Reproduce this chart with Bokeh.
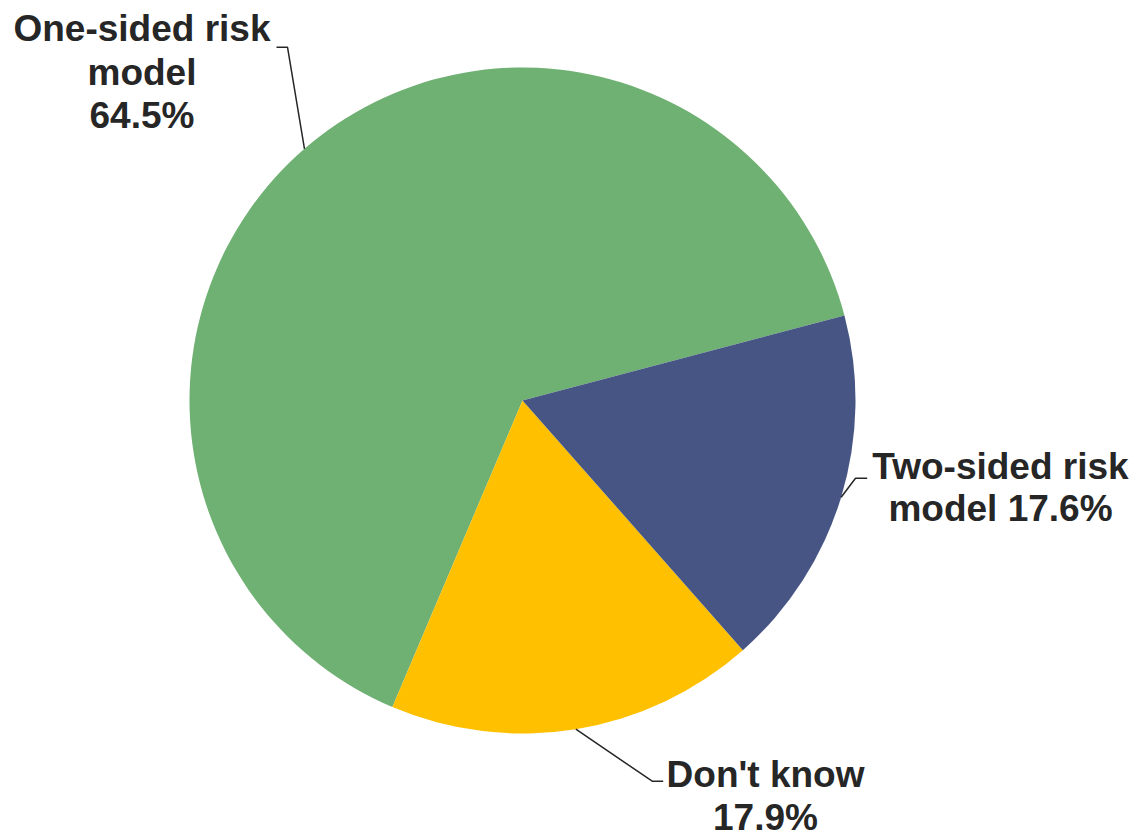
import math
from bokeh.plotting import figure
from bokeh.models import Range1d, ColumnDataSource
from bokeh.core.properties import value
from bokeh.embed import file_html
from bokeh.resources import INLINE

# Survey shares by risk model
categories = ["One-sided risk model", "Don't know", "Two-sided risk model"]
shares = [64.5, 17.9, 17.6]
colors = ["#6FB073", "#FFC000", "#475584"]

# Label text lines per slice (percentage appended from the data)
label_lines = [["One-sided risk", "model", "{}"], ["Don't know", "{}"], ["Two-sided risk", "model {}"]]

W, H = 1135, 830
CX, CY, R = 522.0, 430.0, 333.0
START_DEG = 14.8  # angle where the first slice begins (counter-clockwise)
TEXT_SHIFT = 12.0  # baseline correction for the text glyph

# label layout: (text centre x, first baseline y from top, line step, elbow, leader end)
layout = [
    dict(x=141.5, y0=40.0, step=43.7, elbow=(287.0, 46.7), end=(276.0, 46.7)),
    dict(x=765.0, y0=785.7, step=43.0, elbow=(651.7, 780.7), end=(662.7, 780.7)),
    dict(x=1000.0, y0=478.0, step=42.0, elbow=(855.0, 477.7), end=(866.7, 477.7)),
]

total = sum(shares)
starts, ends, mids = [], [], []
a = math.radians(START_DEG)
for s in shares:
    span = 2 * math.pi * s / total
    starts.append(a)
    ends.append(a + span)
    mids.append(a + span / 2)
    a += span

p = figure(width=W, height=H, output_backend="svg", toolbar_location=None,
           x_range=Range1d(0, W), y_range=Range1d(0, H), min_border=0)
p.axis.visible = False
p.grid.visible = False
p.outline_line_color = None
p.background_fill_color = "white"
p.border_fill_color = "white"

src = ColumnDataSource(dict(cat=categories, share=shares, color=colors,
                            start=starts, end=ends))
p.wedge(x=CX, y=CY, radius=R, start_angle="start", end_angle="end",
        direction="anticlock", fill_color="color", line_color=None, source=src)

text_font = value("Liberation Sans")
for i, s in enumerate(shares):
    lay = layout[i]
    # leader line: slice edge at mid angle -> elbow -> short horizontal tail
    ex = CX + R * math.cos(mids[i])
    ey = CY + R * math.sin(mids[i])
    xs = [ex, lay["elbow"][0], lay["end"][0]]
    ys = [ey, H - lay["elbow"][1], H - lay["end"][1]]
    p.line(xs, ys, line_color="#262626", line_width=1.5)

    pct = "{:.1f}%".format(s)
    lines = [ln.format(pct) for ln in label_lines[i]]
    for k, ln in enumerate(lines):
        yb = lay["y0"] + k * lay["step"] - TEXT_SHIFT
        p.text(x=[lay["x"]], y=[H - yb], text=[ln],
               text_font=text_font, text_font_style="bold", text_font_size="37px",
               text_color="#262626", text_align="center", text_baseline="alphabetic")

open("out.html", "w").write(file_html(p, INLINE))
